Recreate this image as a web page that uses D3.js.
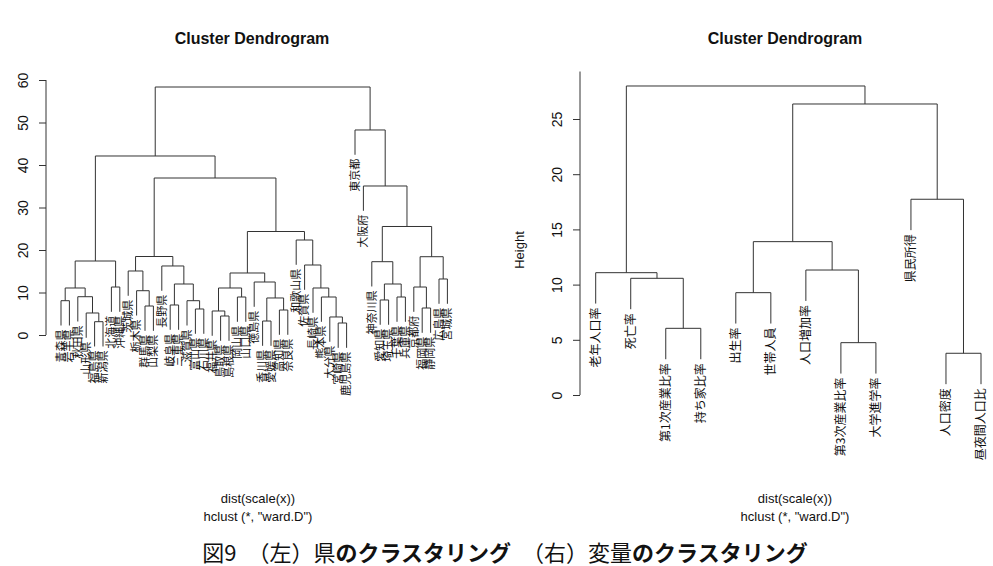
<!DOCTYPE html>
<html>
<head>
<meta charset="utf-8">
<script src="https://cdn.jsdelivr.net/npm/d3@7"></script>
<style>
  body { margin: 0; background: #fff; }
  text { font-family: "Liberation Sans", Arial, sans-serif; fill: #111; }
  .jp { font-family: "Noto Sans CJK JP", sans-serif; }
</style>
</head>
<body>
<script>
'use strict';

// ---- left: prefectures (leaf order as drawn) ----
const prefLabels = [
  "青森県", "岩手県", "秋田県", "山形県", "福島県", "新潟県", "北海道", "沖縄県",
  "茨城県", "栃木県", "群馬県", "山梨県", "長野県", "岐阜県", "三重県", "滋賀県", "富山県", "石川県",
  "福井県", "鳥取県", "島根県", "岡山県", "山口県", "徳島県", "香川県", "愛媛県", "高知県", "奈良県",
  "和歌山県", "佐賀県", "長崎県", "熊本県", "大分県", "宮崎県", "鹿児島県",
  "東京都", "大阪府", "神奈川県", "愛知県", "埼玉県", "千葉県", "兵庫県", "京都府", "福岡県", "静岡県", "広島県", "宮城県"
];
// R hclust style merge matrix: negative = leaf, positive = earlier merge row
const prefMerge = [
  [-1, -2], [-5, -6], [-4, 2], [-3, 3], [1, 4], [-7, -8], [5, 6],
  [-11, -12], [-10, 8], [-9, 9], [-14, -15], [-17, -18], [-16, 12], [11, 13], [-13, 14], [10, 15],
  [-20, -21], [-19, 17], [-22, -23], [18, 19], [-25, -26], [-27, -28], [21, 22], [-24, 23], [20, 24],
  [-34, -35], [-33, 26], [-32, 27], [-31, 28], [-30, 29], [-29, 30], [25, 31],
  [-39, -40], [-41, -42], [33, 34], [-38, 35], [-44, -45], [-43, 37], [-46, -47], [38, 39], [36, 40],
  [-37, 41], [-36, 42], [16, 32], [7, 44], [45, 43]
];
const prefHeights = [
  8.07, 3.13, 5.18, 9.01, 11.06, 11.29, 17.41,
  6.82, 10.42, 15.06, 7.06, 6.12, 8.07, 12.0, 16.24, 18.47,
  4.47, 5.65, 8.94, 11.06, 3.29, 5.88, 8.71, 12.47, 14.59,
  2.82, 4.24, 8.94, 11.06, 16.47, 22.35, 24.35,
  8.24, 8.94, 12.0, 17.25, 6.35, 11.29, 13.18, 18.42, 25.53,
  35.06, 48.24, 36.94, 42.12, 58.35
];
const prefTicks = [0, 10, 20, 30, 40, 50, 60];

// ---- right: variables ----
const varLabels = [
  "老年人口率", "死亡率", "第1次産業比率", "持ち家比率", "出生率", "世帯人員",
  "人口増加率", "第3次産業比率", "大学進学率", "県民所得", "人口密度", "昼夜間人口比"
];
const varMerge = [
  [-3, -4], [-2, 1], [-1, 2], [-5, -6], [-8, -9], [-7, 5], [4, 6],
  [-11, -12], [-10, 8], [7, 9], [3, 10]
];
const varHeights = [6.04, 10.57, 11.08, 9.27, 4.74, 11.32, 13.89, 3.78, 17.73, 26.36, 27.99];
const varTicks = [0, 5, 10, 15, 20, 25];

const titleText = "Cluster Dendrogram";
const subLines = ["dist(scale(x))", "hclust (*, \"ward.D\")"];

const svg = d3.select('body').append('svg')
  .attr('width', 993)
  .attr('height', 566);

// turn merge matrix into nested object for d3.hierarchy
function buildTree(merge, heights, labels) {
  const nodes = merge.map((pair, i) => ({ height: heights[i], pair: pair }));
  const get = (k) => k < 0 ? { name: labels[-k - 1], height: 0 } : nodes[k - 1];
  nodes.forEach(n => { n.children = n.pair.map(get); });
  return nodes[nodes.length - 1];
}

function drawDendrogram(cfg) {
  const root = d3.hierarchy(buildTree(cfg.merge, cfg.heights, cfg.labels));
  const leaves = root.leaves();
  const maxH = d3.max(cfg.heights);
  const hang = 0.1 * maxH;

  const x = d3.scaleLinear().domain([0, leaves.length - 1]).range(cfg.xRange);
  const y = d3.scaleLinear().domain([0, cfg.ticks[cfg.ticks.length - 1]]).range(cfg.yRange);

  leaves.forEach((d, i) => { d.px = x(i); });
  root.eachAfter(d => {
    if (d.children) {
      d.px = d3.mean(d.children, c => c.px);
      d.py = y(d.data.height);
    }
  });
  leaves.forEach(d => { d.py = y(d.parent.data.height - hang); });

  const g = svg.append('g');

  // branches
  g.selectAll('.link')
    .data(root.descendants().filter(d => d.children))
    .enter()
    .append('path')
    .attr('fill', 'none')
    .attr('stroke', '#333')
    .attr('stroke-width', 1)
    .attr('d', d => {
      const [a, b] = d.children;
      return `M${a.px},${a.py}V${d.py}H${b.px}V${b.py}`;
    });

  // leaf labels
  g.selectAll('.leaf')
    .data(leaves)
    .enter()
    .append('text')
    .attr('class', 'jp')
    .attr('transform', d => `translate(${d.px},${d.py + 4})rotate(-90)`)
    .attr('text-anchor', 'end')
    .attr('dy', '0.35em')
    .style('font-size', cfg.labelSize + 'px')
    .text(d => d.data.name);

  // y axis
  const axis = d3.axisLeft(y).tickValues(cfg.ticks).tickSize(7).tickSizeOuter(0);
  const ax = svg.append('g')
    .attr('transform', `translate(${cfg.axisX},0)`)
    .call(axis);
  ax.select('.domain').remove();
  ax.append('line')
    .attr('y1', y(0)).attr('y2', y(cfg.axisTop))
    .attr('stroke', '#333');
  ax.selectAll('.tick line').attr('stroke', '#333');
  ax.selectAll('.tick text')
    .attr('transform', 'rotate(-90)')
    .attr('x', 0)
    .attr('y', -18)
    .attr('dy', 0)
    .attr('text-anchor', 'middle')
    .style('font-size', '14px')
    .style('fill', '#111')
    .style('font-family', '"Liberation Sans", Arial, sans-serif');

  // title + sub text
  svg.append('text')
    .attr('x', cfg.center)
    .attr('y', 44)
    .attr('text-anchor', 'middle')
    .style('font-size', '16px')
    .style('font-weight', 'bold')
    .text(titleText);

  subLines.forEach((s, i) => {
    svg.append('text')
      .attr('x', cfg.subCenter)
      .attr('y', 503 + i * 18)
      .attr('text-anchor', 'middle')
      .style('font-size', '13px')
      .text(s);
  });

  if (cfg.yLabel) {
    svg.append('text')
      .attr('transform', `translate(${cfg.axisX - 56},${cfg.yLabelY})rotate(-90)`)
      .attr('text-anchor', 'middle')
      .style('font-size', '13px')
      .text(cfg.yLabel);
  }
}

drawDendrogram({
  merge: prefMerge, heights: prefHeights, labels: prefLabels, ticks: prefTicks,
  xRange: [61, 447.4], yRange: [335, 80], axisX: 46, axisTop: 60,
  center: 252, subCenter: 258, labelSize: 11, yLabel: null
});

drawDendrogram({
  merge: varMerge, heights: varHeights, labels: varLabels, ticks: varTicks,
  xRange: [595.7, 981], yRange: [395, 119], axisX: 580, axisTop: 29.3,
  center: 785, subCenter: 795, labelSize: 12, yLabel: "Height", yLabelY: 250
});

// figure caption
const cap = svg.append('text')
  .attr('class', 'jp')
  .attr('x', 505)
  .attr('y', 561)
  .attr('text-anchor', 'middle')
  .style('font-size', '22px');
const capParts = [
  ["図9\u3000（左）県", 'normal'],
  ["のクラスタリング", 'bold'],
  ["\u3000（右）変量", 'normal'],
  ["のクラスタリング", 'bold']
];
capParts.forEach(p => {
  cap.append('tspan').style('font-weight', p[1]).text(p[0]);
});
</script>
</body>
</html>
